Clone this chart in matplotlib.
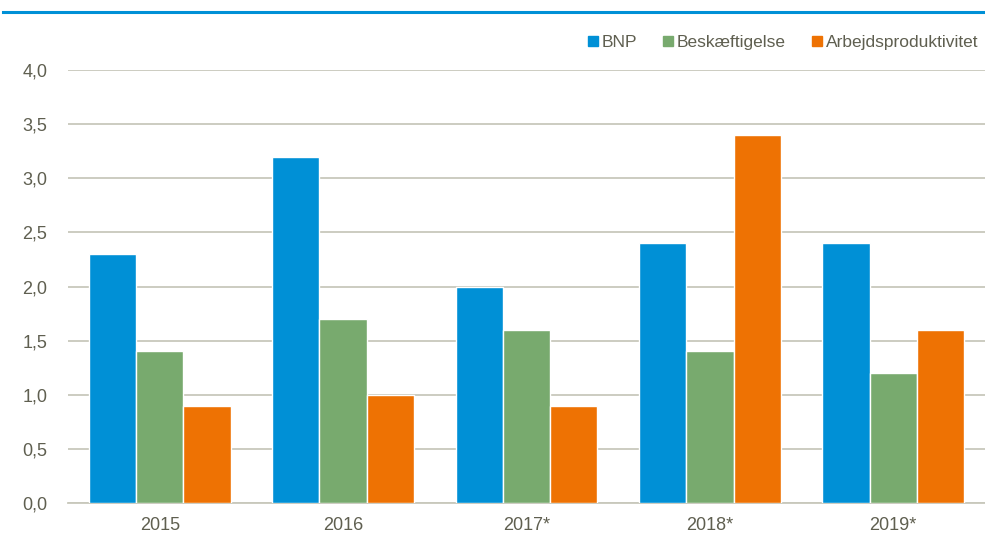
import matplotlib.pyplot as plt
from matplotlib.lines import Line2D
import numpy as np

plt.rcParams['font.family'] = ['Liberation Sans Narrow', 'Liberation Sans', 'DejaVu Sans']

years = ['2015', '2016', '2017*', '2018*', '2019*']
bnp = [2.3, 3.2, 2.0, 2.4, 2.4]
beskaeftigelse = [1.4, 1.7, 1.6, 1.4, 1.2]
produktivitet = [0.9, 1.0, 0.9, 3.4, 1.6]
series_names = ['BNP', 'Beskæftigelse', 'Arbejdsproduktivitet']
colors = ['#0090d6', '#78aa6e', '#ee7203']
yticks = [0.0, 0.5, 1.0, 1.5, 2.0, 2.5, 3.0, 3.5, 4.0]

text_col = '#5f5f50'
grid_col = '#c8c8bc'

fig = plt.figure(figsize=(9.85, 5.41), dpi=100)
ax = fig.add_axes([68/985, 38/541, 917/985, 433/541])

x = np.arange(len(years))
w = 0.258
for i, (vals, name, c) in enumerate(zip([bnp, beskaeftigelse, produktivitet], series_names, colors)):
    ax.bar(x + (i - 1) * w, vals, w, color=c, edgecolor='white', linewidth=1, label=name, zorder=3)

ax.set_xlim(-0.5, 4.5)
ax.set_ylim(0, 4.0)
ax.set_yticks(yticks)
ax.set_yticklabels([f'{v:.1f}'.replace('.', ',') for v in yticks])
ax.set_xticks(x)
ax.set_xticklabels(years)
ax.yaxis.grid(True, color=grid_col, linewidth=1.3, zorder=0)
ax.tick_params(axis='y', length=0, pad=15, labelsize=13, labelcolor=text_col)
ax.tick_params(axis='x', length=0, pad=10, labelsize=13, labelcolor=text_col)
for s in ['top', 'right', 'left']:
    ax.spines[s].set_visible(False)
ax.spines['bottom'].set_color(grid_col)
ax.spines['bottom'].set_linewidth(1.3)

handles = [Line2D([], [], marker='s', linestyle='none', markersize=7, color=c) for c in colors]
leg = ax.legend(handles, series_names, loc='lower right', bbox_to_anchor=(1.0, 1.03),
                ncol=3, frameon=False, fontsize=12.5, handletextpad=0.1,
                columnspacing=1.4, borderaxespad=0, handlelength=0.8)
for t in leg.get_texts():
    t.set_color(text_col)

fig.add_artist(Line2D([3/985, 1.0], [1 - 12/541, 1 - 12/541], color='#0090d6', linewidth=2.2))

fig.savefig('out.png', dpi=100)
